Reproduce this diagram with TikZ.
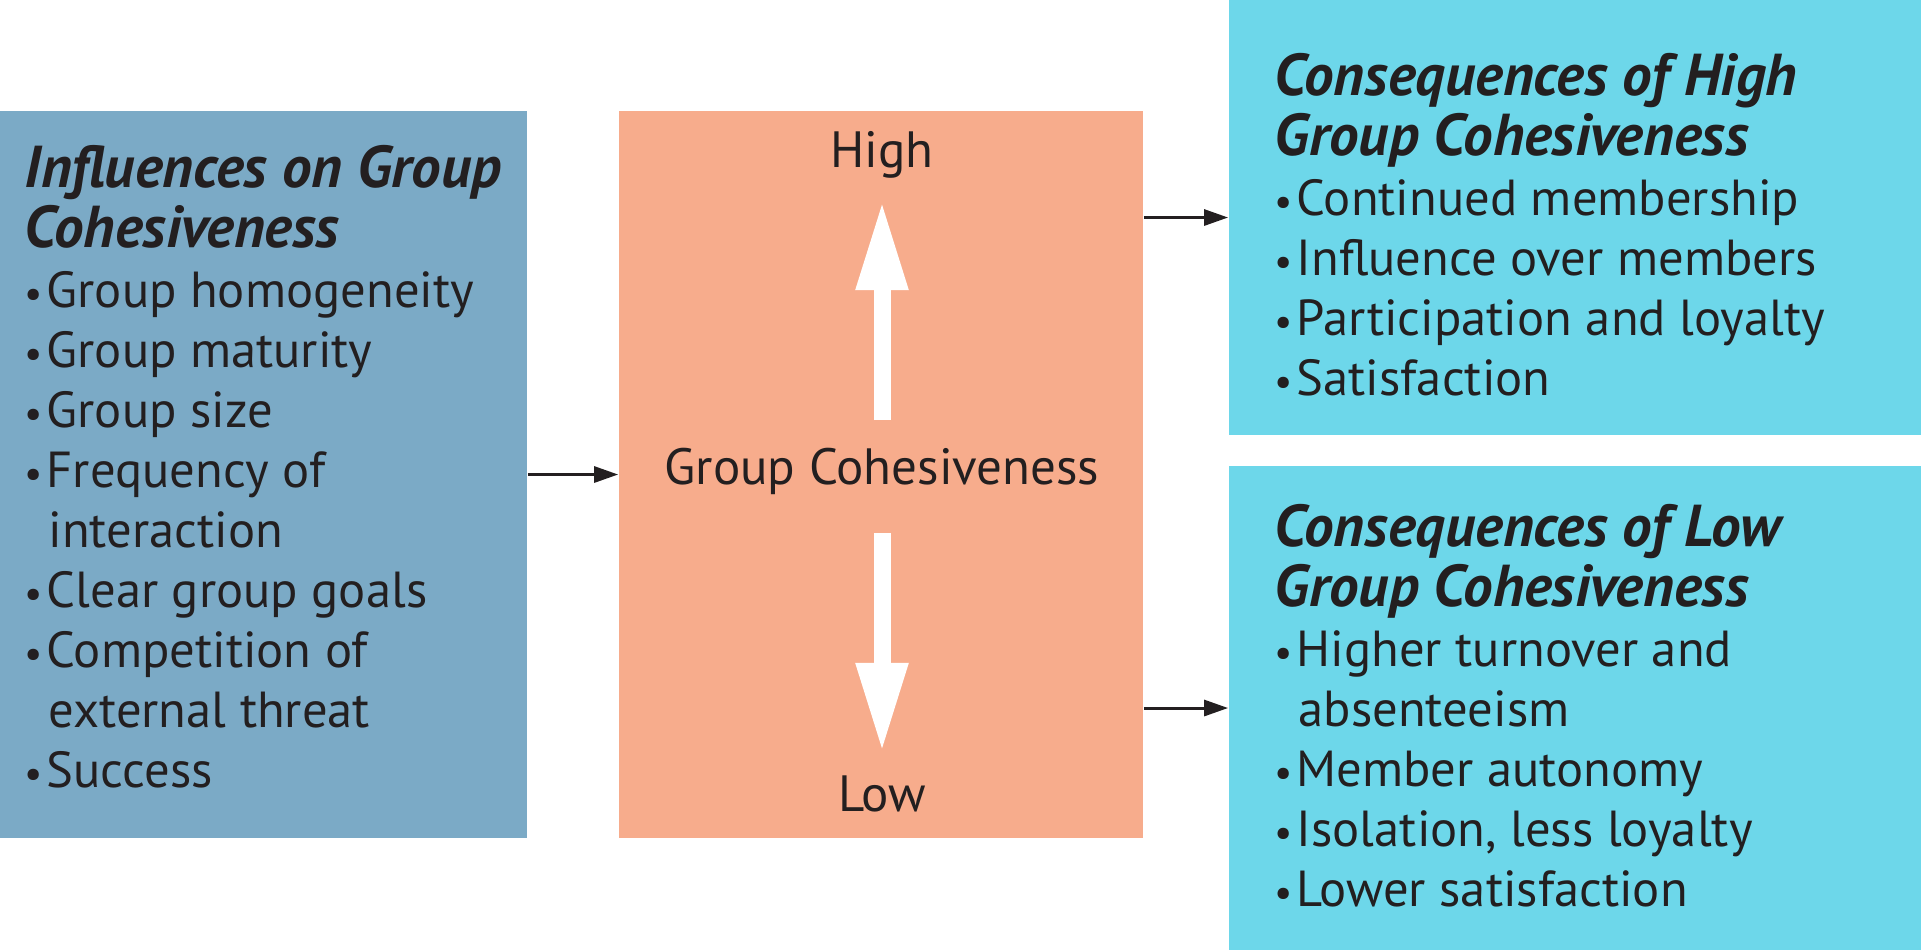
\documentclass[tikz,border=0pt]{standalone}
\usepackage{fontspec}
\usepackage{graphicx}
\setmainfont{PT Sans}
\usetikzlibrary{arrows.meta}
\definecolor{infblue}{HTML}{7BAAC6}
\definecolor{cohsalmon}{HTML}{F7AC8C}
\definecolor{conscyan}{HTML}{6DD7EA}
\definecolor{inkdark}{HTML}{231F20}
\newcommand{\bul}{\makebox[0.22cm][l]{\scalebox{0.8}{\textbullet}}}
\newcommand{\cont}{\makebox[0.24cm][l]{}}
\newcommand{\hd}[1]{{\fontsize{16.8}{17.05}\selectfont\textbf{\textit{#1}}}}
\begin{document}
\begin{tikzpicture}
    [x=0.01cm, y=-0.01cm,
     box/.style={inner sep=0pt, draw=none},
     txt/.style={inner sep=0pt, anchor=north west, align=left, text=inkdark,
        font=\fontsize{14.4}{17.05}\selectfont},
     lbl/.style={inner sep=0pt, text=inkdark, font=\fontsize{14.5}{17}\selectfont},
     link/.style={inkdark, line width=0.85pt, -{Triangle[length=2.4mm, width=1.6mm]}},
     scale arrow/.style={white, line width=0.17cm, -{Triangle[length=0.9cm, width=0.48cm]}}]
    \useasboundingbox (0,0) rectangle (1921,950);
    \node[box, fill=infblue, minimum width=5.27cm, minimum height=7.27cm] (inf) at (263.5,474.5){};
    \node[box, fill=cohsalmon, minimum width=5.24cm, minimum height=7.27cm] (coh) at (881,474.5){};
    \node[box, fill=conscyan, minimum width=6.92cm, minimum height=4.35cm] (high) at (1575,217.5){};
    \node[box, fill=conscyan, minimum width=6.92cm, minimum height=4.84cm] (low) at (1575,708){};
    % lists
    \node[txt] (inftxt) at (24,145){\hd{Influences on Group}\\ \hd{Cohesiveness}\\
        \bul Group homogeneity\\ \bul Group maturity\\ \bul Group size\\
        \bul Frequency of\\ \cont interaction\\ \bul Clear group goals\\
        \bul Competition of\\ \cont external threat\\ \bul Success};
    \node[txt] (hightxt) at (1274,53){\hd{Consequences of High}\\ \hd{Group Cohesiveness}\\
        \bul Continued membership\\ \bul Influence over members\\
        \bul Participation and loyalty\\ \bul Satisfaction};
    \node[txt] (lowtxt) at (1274,504){\hd{Consequences of Low}\\ \hd{Group Cohesiveness}\\
        \bul Higher turnover and\\ \cont absenteeism\\ \bul Member autonomy\\
        \bul Isolation, less loyalty\\ \bul Lower satisfaction};
    % middle box
    \node[lbl, anchor=base] (hi) at (882,167){High};
    \node[lbl, anchor=base] (gc) at (882,484){Group Cohesiveness};
    \node[lbl, anchor=base] (lo) at (882,811){Low};
    \coordinate (upfrom) at (882,420);
    \coordinate (upto) at (882,200);
    \coordinate (dnfrom) at (882,533);
    \coordinate (dnto) at (882,753);
    \draw[scale arrow] (upfrom) -- (upto);
    \draw[scale arrow] (dnfrom) -- (dnto);
    \draw[link] (inf.east) -- (coh.west);
    \draw[link] (coh.east |- high.west) -- (high.west);
    \draw[link] (coh.east |- low.west) -- (low.west);
\end{tikzpicture}
\end{document}
